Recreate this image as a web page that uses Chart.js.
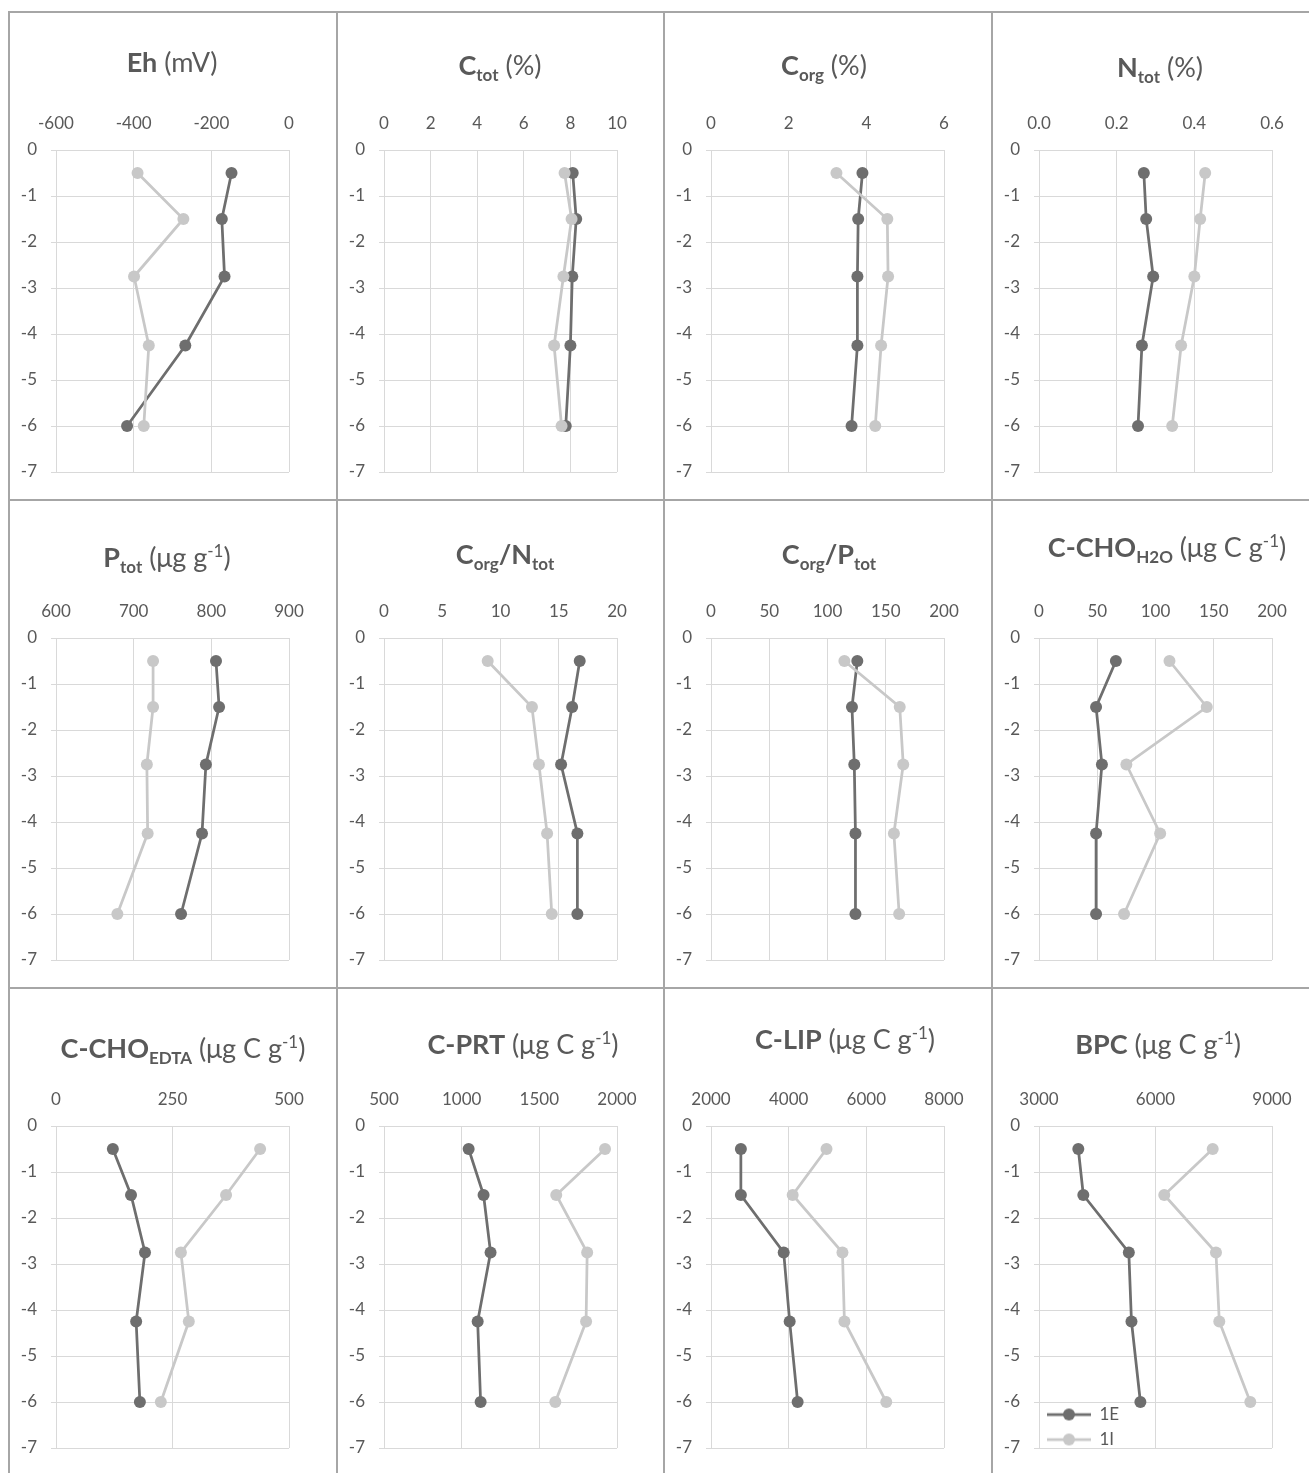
<!DOCTYPE html>
<html>
<head>
<meta charset="utf-8">
<script src="https://cdn.jsdelivr.net/npm/chart.js@4"></script>
<style>
  body { margin: 0; background: #fff; width: 1309px; height: 1473px; overflow: hidden; position: relative; }
  canvas { position: absolute; }
  .vline { position: absolute; width: 2px; background: #a6a6a6; }
  .hline { position: absolute; height: 2px; background: #a6a6a6; }
</style>
</head>
<body>
<script>
// depth of each sample (cm), same for every panel
const depth = [-0.5, -1.5, -2.75, -4.25, -6];
const seriesNames = ['1E', '1I'];

// values, one pair of arrays per panel
const eh1E = [-148, -173, -166, -267, -417];
const eh1I = [-390, -272, -399, -361, -374];
const ctot1E = [8.1, 8.25, 8.08, 8.0, 7.8];
const ctot1I = [7.75, 8.05, 7.7, 7.3, 7.62];
const corg1E = [3.9, 3.79, 3.77, 3.77, 3.62];
const corg1I = [3.23, 4.54, 4.56, 4.38, 4.23];
const ntot1E = [0.27, 0.276, 0.294, 0.265, 0.255];
const ntot1I = [0.428, 0.415, 0.4, 0.366, 0.343];
const ptot1E = [806, 810, 793, 788, 761];
const ptot1I = [725, 725, 717, 718, 679];
const cn1E = [16.8, 16.15, 15.2, 16.6, 16.6];
const cn1I = [8.9, 12.7, 13.3, 14.0, 14.4];
const cp1E = [125.6, 121, 123, 124, 124];
const cp1I = [114.5, 162, 165, 157, 161.5];
const choH2o1E = [66, 49, 54, 49, 49];
const choH2o1I = [112, 144, 75, 104, 73];
const choEdta1E = [122, 161, 191, 172, 180];
const choEdta1I = [438, 365, 268, 285, 225];
const prt1E = [1045, 1141, 1186, 1103, 1122];
const prt1I = [1923, 1609, 1808, 1801, 1603];
const lip1E = [2769, 2769, 3872, 4026, 4231];
const lip1I = [4974, 4103, 5385, 5436, 6513];
const bpc1E = [4012, 4141, 5313, 5381, 5611];
const bpc1I = [7473, 6226, 7557, 7643, 8441];

// x axis ranges: [min, max, step]
const xRanges = [
  [-600, 0, 200], [0, 10, 2], [0, 6, 2], [0, 0.6, 0.2],
  [600, 900, 100], [0, 20, 5], [0, 200, 50], [0, 200, 50],
  [0, 500, 250], [500, 2000, 500], [2000, 8000, 2000], [3000, 9000, 3000]
];
const depthTicks = [-7, 0, 1];

// titles: b = bold, sub / sup = sub- and superscript
const titles = [
  [{t: 'Eh', b: 1}, {t: ' (mV)'}],
  [{t: 'C', b: 1}, {t: 'tot', b: 1, sub: 1}, {t: ' (%)'}],
  [{t: 'C', b: 1}, {t: 'org', b: 1, sub: 1}, {t: ' (%)'}],
  [{t: 'N', b: 1}, {t: 'tot', b: 1, sub: 1}, {t: ' (%)'}],
  [{t: 'P', b: 1}, {t: 'tot', b: 1, sub: 1}, {t: ' (μg g'}, {t: '-1', sup: 1}, {t: ')'}],
  [{t: 'C', b: 1}, {t: 'org', b: 1, sub: 1}, {t: '/N', b: 1}, {t: 'tot', b: 1, sub: 1}],
  [{t: 'C', b: 1}, {t: 'org', b: 1, sub: 1}, {t: '/P', b: 1}, {t: 'tot', b: 1, sub: 1}],
  [{t: 'C-CHO', b: 1}, {t: 'H2O', b: 1, sub: 1}, {t: ' (μg C g'}, {t: '-1', sup: 1}, {t: ')'}],
  [{t: 'C-CHO', b: 1}, {t: 'EDTA', b: 1, sub: 1}, {t: ' (μg C g'}, {t: '-1', sup: 1}, {t: ')'}],
  [{t: 'C-PRT', b: 1}, {t: ' (μg C g'}, {t: '-1', sup: 1}, {t: ')'}],
  [{t: 'C-LIP', b: 1}, {t: ' (μg C g'}, {t: '-1', sup: 1}, {t: ')'}],
  [{t: 'BPC', b: 1}, {t: ' (μg C g'}, {t: '-1', sup: 1}, {t: ')'}]
];

const values = [
  [eh1E, eh1I], [ctot1E, ctot1I], [corg1E, corg1I], [ntot1E, ntot1I],
  [ptot1E, ptot1I], [cn1E, cn1I], [cp1E, cp1I], [choH2o1E, choH2o1I],
  [choEdta1E, choEdta1I], [prt1E, prt1I], [lip1E, lip1I], [bpc1E, bpc1I]
];

// layout of the panel grid
const colLeft = [9, 337, 664, 992];
const rowTop = [12, 500, 988];
const panelW = 328, panelH = 488;
const titleX = [163, 163, 160, 168, 158, 168, 165, 175, 174, 186, 181, 166];
const titleBase = [60, 63, 63, 65, 67, 64, 64, 57, 70, 66, 61, 66];

const dark = '#6e6e6e';
const light = '#c8c8c8';
const textColor = '#595959';
const gridColor = '#d9d9d9';
const fontFamily = 'Lato, "Open Sans", sans-serif';

// borders between panels
colLeft.forEach(x => {
  const d = document.createElement('div');
  d.className = 'vline';
  d.style.left = (x - 1) + 'px'; d.style.top = '11px'; d.style.height = '1473px';
  document.body.appendChild(d);
});
rowTop.forEach(y => {
  const d = document.createElement('div');
  d.className = 'hline';
  d.style.left = '8px'; d.style.top = (y - 1) + 'px'; d.style.width = '1320px';
  document.body.appendChild(d);
});

const richTitle = {
  id: 'richTitle',
  afterDraw(chart, args, opts) {
    const ctx = chart.ctx;
    let w = 0;
    const parts = opts.segs.map(s => {
      const size = (s.sub || s.sup) ? 17 : 27;
      const font = (s.b ? 'bold ' : '') + size + 'px ' + fontFamily;
      ctx.font = font;
      const m = ctx.measureText(s.t).width;
      w += m;
      return {s, font, m};
    });
    let x = opts.cx - w / 2;
    ctx.save();
    ctx.fillStyle = textColor;
    ctx.textBaseline = 'alphabetic';
    ctx.textAlign = 'left';
    parts.forEach(p => {
      ctx.font = p.font;
      const dy = p.s.sub ? 6 : (p.s.sup ? -10 : 0);
      ctx.fillText(p.s.t, x, opts.base + dy);
      x += p.m;
    });
    ctx.restore();
  }
};

// the chartArea legend is laid out from the canvas top; move it into the plot
const legendInPlot = {
  id: 'legendInPlot',
  afterLayout(chart) {
    const lg = chart.legend;
    if (lg && lg.options.display && lg.options.position === 'chartArea') {
      const dy = chart.chartArea.top + 8;
      lg.top += dy;
      lg.bottom += dy;
    }
  }
};

// legend marker: short line with a dot in the middle
function legendIcon(color) {
  const c = document.createElement('canvas');
  c.width = 44; c.height = 14;
  const g = c.getContext('2d');
  g.strokeStyle = color; g.lineWidth = 2.75;
  g.beginPath(); g.moveTo(0, 7); g.lineTo(44, 7); g.stroke();
  g.fillStyle = color;
  g.beginPath(); g.arc(22, 7, 6, 0, Math.PI * 2); g.fill();
  return c;
}

for (let i = 0; i < 12; i++) {
  const canvas = document.createElement('canvas');
  canvas.width = panelW; canvas.height = panelH;
  canvas.style.left = colLeft[i % 4] + 'px';
  canvas.style.top = rowTop[Math.floor(i / 4)] + 'px';
  document.body.appendChild(canvas);

  const [xmin, xmax, xstep] = xRanges[i];
  const decimals = xstep < 1 ? 1 : 0;
  const isLast = i === 11;

  new Chart(canvas, {
    type: 'line',
    data: {
      datasets: [
        {
          label: seriesNames[0],
          data: depth.map((d, k) => ({x: values[i][0][k], y: d})),
          borderColor: dark, backgroundColor: dark, pointBackgroundColor: dark,
          order: 1
        },
        {
          label: seriesNames[1],
          data: depth.map((d, k) => ({x: values[i][1][k], y: d})),
          borderColor: light, backgroundColor: light, pointBackgroundColor: light,
          order: 0
        }
      ]
    },
    options: {
      responsive: false,
      animation: false,
      events: [],
      layout: {padding: {left: 0, right: 48, top: 0, bottom: 28}},
      elements: {
        line: {borderWidth: 2.75, tension: 0},
        point: {radius: 6, borderWidth: 0, hoverRadius: 6}
      },
      scales: {
        x: {
          type: 'linear',
          position: 'top',
          min: xmin, max: xmax,
          ticks: {
            stepSize: xstep, color: textColor, padding: 16,
            font: {family: fontFamily, size: 17},
            maxRotation: 0,
            callback: v => decimals ? v.toFixed(1) : String(v)
          },
          grid: {color: gridColor, drawTicks: false},
          border: {color: gridColor},
          afterFit: s => { s.height = 138; }
        },
        y: {
          type: 'linear',
          min: depthTicks[0], max: depthTicks[1],
          ticks: {
            stepSize: depthTicks[2], color: textColor, padding: 14,
            font: {family: fontFamily, size: 17},
            callback: v => String(v)
          },
          grid: {color: gridColor, tickLength: 5},
          border: {color: gridColor},
          afterFit: s => { s.width = 47; }
        }
      },
      plugins: {
        tooltip: {enabled: false},
        richTitle: {segs: titles[i], cx: titleX[i], base: titleBase[i]},
        legend: {
          display: isLast,
          position: 'chartArea',
          align: 'end',
          labels: {
            usePointStyle: true,
            pointStyleWidth: 44,
            boxHeight: 12,
            padding: 8,
            color: textColor,
            font: {family: fontFamily, size: 17},
            sort: (a, b) => a.datasetIndex - b.datasetIndex,
            generateLabels: chart => Chart.defaults.plugins.legend.labels.generateLabels(chart)
              .map(it => Object.assign(it, {pointStyle: legendIcon(chart.data.datasets[it.datasetIndex].borderColor)}))
          }
        }
      }
    },
    plugins: [richTitle, legendInPlot]
  });
}
</script>
</body>
</html>
